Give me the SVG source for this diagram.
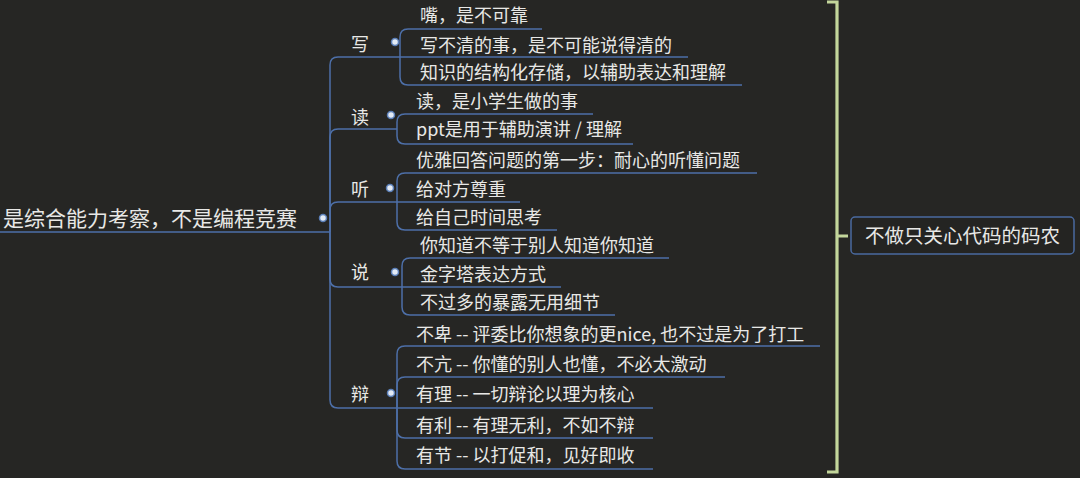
<svg xmlns="http://www.w3.org/2000/svg" width="1080" height="478" viewBox="0 0 1080 478">
<style>
text{font-family:"Noto Sans CJK SC","Noto Sans",sans-serif;fill:#e8e8e6}
.root{font-size:21px}
.br{font-size:18px}
.ch{font-size:18px}
.ln{fill:none;stroke:#4d6fa8;stroke-width:1.5}
.dot{fill:#e4ebf5;stroke:#5b7fb8;stroke-width:1.5}
.brk{fill:none;stroke:#c3d69b;stroke-width:3.2}
.sum{font-size:19.5px}
</style>
<rect width="1080" height="478" fill="#262624"/>
<g id="connectors">
<path class="ln" d="M0 232H330"/>
<path class="ln" d="M330 232V65Q330 57 338 57H400"/>
<path class="ln" d="M330 232V137Q330 129 338 129H397"/>
<path class="ln" d="M330 232V210Q330 202 338 202H397"/>
<path class="ln" d="M330 232V279Q330 287 338 287H402"/>
<path class="ln" d="M330 232V400Q330 408 338 408H397"/>
<path class="ln" d="M400 57V37Q400 29 408 29H542"/>
<path class="ln" d="M400 57H688"/>
<path class="ln" d="M400 57V77Q400 85 408 85H742"/>
<path class="ln" d="M397 129V122Q397 114 405 114H593"/>
<path class="ln" d="M397 129V136Q397 144 405 144H633"/>
<path class="ln" d="M397 202V181Q397 173 405 173H757"/>
<path class="ln" d="M397 202H520"/>
<path class="ln" d="M397 202V222Q397 230 405 230H557"/>
<path class="ln" d="M402 287V266Q402 258 410 258H669"/>
<path class="ln" d="M402 287H561"/>
<path class="ln" d="M402 287V307Q402 315 410 315H615"/>
<path class="ln" d="M397 408V354Q397 346 405 346H820"/>
<path class="ln" d="M397 408V385Q397 377 405 377H725"/>
<path class="ln" d="M397 408H653"/>
<path class="ln" d="M397 408V430Q397 438 405 438H653"/>
<path class="ln" d="M397 408V461Q397 469 405 469H653"/>
<path class="brk" d="M827 2H837V472H827M837 236H848"/>
</g>
<g id="root"><text class="root" x="3" y="226">是综合能力考察，不是编程竞赛</text><circle class="dot" cx="323" cy="218" r="3.5"/></g>
<g id="b-xie"><text class="br" x="351" y="50.5">写</text><circle class="dot" cx="395" cy="42" r="3.5"/></g>
<g id="c-xie-1"><text class="ch" x="420" y="21.5">嘴，是不可靠</text></g>
<g id="c-xie-2"><text class="ch" x="420" y="51.5">写不清的事，是不可能说得清的</text></g>
<g id="c-xie-3"><text class="ch" x="420" y="78.5">知识的结构化存储，以辅助表达和理解</text></g>
<g id="b-du"><text class="br" x="351" y="123.5">读</text><circle class="dot" cx="391" cy="115" r="3.5"/></g>
<g id="c-du-1"><text class="ch" x="416" y="107.5">读，是小学生做的事</text></g>
<g id="c-du-2"><text class="ch" x="416" y="136">ppt是用于辅助演讲 / 理解</text></g>
<g id="b-ting"><text class="br" x="351" y="196">听</text><circle class="dot" cx="390" cy="188" r="3.5"/></g>
<g id="c-ting-1"><text class="ch" x="416" y="166.5">优雅回答问题的第一步：耐心的听懂问题</text></g>
<g id="c-ting-2"><text class="ch" x="416" y="195.5">给对方尊重</text></g>
<g id="c-ting-3"><text class="ch" x="416" y="223.5">给自己时间思考</text></g>
<g id="b-shuo"><text class="br" x="351" y="279">说</text><circle class="dot" cx="395" cy="272" r="3.5"/></g>
<g id="c-shuo-1"><text class="ch" x="420" y="251.5">你知道不等于别人知道你知道</text></g>
<g id="c-shuo-2"><text class="ch" x="420" y="280.5">金字塔表达方式</text></g>
<g id="c-shuo-3"><text class="ch" x="420" y="308.5">不过多的暴露无用细节</text></g>
<g id="b-bian"><text class="br" x="351" y="400.5">辩</text><circle class="dot" cx="391" cy="393" r="3.5"/></g>
<g id="c-bian-1"><text class="ch" x="416" y="340.5">不卑 -- 评委比你想象的更nice, 也不过是为了打工</text></g>
<g id="c-bian-2"><text class="ch" x="416" y="370.5">不亢 -- 你懂的别人也懂，不必太激动</text></g>
<g id="c-bian-3"><text class="ch" x="416" y="400.5">有理 -- 一切辩论以理为核心</text></g>
<g id="c-bian-4"><text class="ch" x="416" y="431.5">有利 -- 有理无利，不如不辩</text></g>
<g id="c-bian-5"><text class="ch" x="416" y="461.5">有节 -- 以打促和，见好即收</text></g>
<g id="summary"><rect x="851" y="217" width="223" height="37" rx="4" fill="#242422" stroke="#4a6aa0" stroke-width="1.5"/><text class="sum" x="962.5" y="243" text-anchor="middle">不做只关心代码的码农</text></g>
</svg>
